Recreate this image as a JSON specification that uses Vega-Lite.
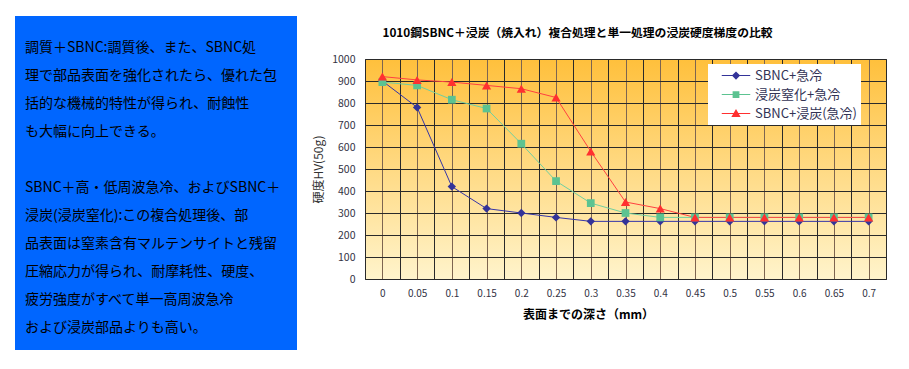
{
  "$schema": "https://vega.github.io/schema/vega-lite/v6.json",
  "background": "white",
  "padding": {"left": 15, "top": 16, "right": 0, "bottom": 0},
  "spacing": 15,
  "config": {
    "font": "Noto Sans CJK JP",
    "axis": {"labelFont": "Noto Sans CJK JP", "titleFont": "Noto Sans CJK JP"},
    "legend": {"labelFont": "Noto Sans CJK JP"}
  },
  "resolve": {
    "scale": {"stroke": "independent"},
    "legend": {"stroke": "independent"}
  },
  "hconcat": [
    {
      "width": 282,
      "height": 334,
      "view": {"fill": "#0066FF", "stroke": null},
      "data": {"values": [
        {"line": 0, "text": "調質＋SBNC:調質後、また、SBNC処"},
        {"line": 1, "text": "理で部品表面を強化されたら、優れた包"},
        {"line": 2, "text": "括的な機械的特性が得られ、耐蝕性"},
        {"line": 3, "text": "も大幅に向上できる。"},
        {"line": 5, "text": "SBNC＋高・低周波急冷、およびSBNC＋"},
        {"line": 6, "text": "浸炭(浸炭窒化):この複合処理後、部"},
        {"line": 7, "text": "品表面は窒素含有マルテンサイトと残留"},
        {"line": 8, "text": "圧縮応力が得られ、耐摩耗性、硬度、"},
        {"line": 9, "text": "疲労強度がすべて単一高周波急冷"},
        {"line": 10, "text": "および浸炭部品よりも高い。"}
      ]},
      "mark": {"type": "text", "align": "left", "baseline": "middle", "fontSize": 14, "color": "#000000", "font": "Noto Sans CJK JP"},
      "encoding": {
        "x": {"datum": 0, "type": "quantitative", "scale": {"domain": [-10, 272]}, "axis": null},
        "y": {"field": "line", "type": "quantitative", "scale": {"domain": [-1.143, 10.786], "reverse": true, "nice": false, "zero": false}, "axis": null},
        "text": {"field": "text"}
      }
    },
    {
      "spacing": 10,
      "resolve": {
        "scale": {"stroke": "independent"},
        "legend": {"stroke": "independent"}
      },
      "vconcat": [
        {
          "width": 1,
          "height": 1,
          "view": {"stroke": null, "fill": null},
          "data": {"values": []},
          "mark": {"type": "point"},
          "encoding": {}
        },
        {
          "width": 521,
          "height": 220,
          "view": {
            "fill": {"gradient": "linear", "x1": 0, "y1": 0, "x2": 0, "y2": 1, "stops": [{"offset": 0, "color": "#FFC03C"}, {"offset": 1, "color": "#FFF4CC"}]},
            "stroke": "#333333",
            "strokeWidth": 1
          },
          "title": {"text": "1010鋼SBNC＋浸炭（焼入れ）複合処理と単一処理の浸炭硬度梯度の比較", "fontSize": 11.8, "fontWeight": "bold", "color": "#000000", "anchor": "middle", "dx": -48, "offset": 14, "font": "Noto Sans CJK JP"},
          "data": {"values": [
            {"depth": 0, "hv": 900, "series": "SBNC+急冷"},
            {"depth": 0.05, "hv": 780, "series": "SBNC+急冷"},
            {"depth": 0.1, "hv": 420, "series": "SBNC+急冷"},
            {"depth": 0.15, "hv": 320, "series": "SBNC+急冷"},
            {"depth": 0.2, "hv": 300, "series": "SBNC+急冷"},
            {"depth": 0.25, "hv": 280, "series": "SBNC+急冷"},
            {"depth": 0.3, "hv": 262, "series": "SBNC+急冷"},
            {"depth": 0.35, "hv": 262, "series": "SBNC+急冷"},
            {"depth": 0.4, "hv": 262, "series": "SBNC+急冷"},
            {"depth": 0.45, "hv": 262, "series": "SBNC+急冷"},
            {"depth": 0.5, "hv": 262, "series": "SBNC+急冷"},
            {"depth": 0.55, "hv": 262, "series": "SBNC+急冷"},
            {"depth": 0.6, "hv": 262, "series": "SBNC+急冷"},
            {"depth": 0.65, "hv": 262, "series": "SBNC+急冷"},
            {"depth": 0.7, "hv": 262, "series": "SBNC+急冷"},
            {"depth": 0, "hv": 895, "series": "浸炭窒化+急冷"},
            {"depth": 0.05, "hv": 880, "series": "浸炭窒化+急冷"},
            {"depth": 0.1, "hv": 815, "series": "浸炭窒化+急冷"},
            {"depth": 0.15, "hv": 775, "series": "浸炭窒化+急冷"},
            {"depth": 0.2, "hv": 615, "series": "浸炭窒化+急冷"},
            {"depth": 0.25, "hv": 445, "series": "浸炭窒化+急冷"},
            {"depth": 0.3, "hv": 345, "series": "浸炭窒化+急冷"},
            {"depth": 0.35, "hv": 300, "series": "浸炭窒化+急冷"},
            {"depth": 0.4, "hv": 280, "series": "浸炭窒化+急冷"},
            {"depth": 0.45, "hv": 280, "series": "浸炭窒化+急冷"},
            {"depth": 0.5, "hv": 280, "series": "浸炭窒化+急冷"},
            {"depth": 0.55, "hv": 280, "series": "浸炭窒化+急冷"},
            {"depth": 0.6, "hv": 280, "series": "浸炭窒化+急冷"},
            {"depth": 0.65, "hv": 280, "series": "浸炭窒化+急冷"},
            {"depth": 0.7, "hv": 280, "series": "浸炭窒化+急冷"},
            {"depth": 0, "hv": 920, "series": "SBNC+浸炭(急冷)"},
            {"depth": 0.05, "hv": 905, "series": "SBNC+浸炭(急冷)"},
            {"depth": 0.1, "hv": 895, "series": "SBNC+浸炭(急冷)"},
            {"depth": 0.15, "hv": 880, "series": "SBNC+浸炭(急冷)"},
            {"depth": 0.2, "hv": 865, "series": "SBNC+浸炭(急冷)"},
            {"depth": 0.25, "hv": 825, "series": "SBNC+浸炭(急冷)"},
            {"depth": 0.3, "hv": 580, "series": "SBNC+浸炭(急冷)"},
            {"depth": 0.35, "hv": 350, "series": "SBNC+浸炭(急冷)"},
            {"depth": 0.4, "hv": 320, "series": "SBNC+浸炭(急冷)"},
            {"depth": 0.45, "hv": 280, "series": "SBNC+浸炭(急冷)"},
            {"depth": 0.5, "hv": 280, "series": "SBNC+浸炭(急冷)"},
            {"depth": 0.55, "hv": 280, "series": "SBNC+浸炭(急冷)"},
            {"depth": 0.6, "hv": 280, "series": "SBNC+浸炭(急冷)"},
            {"depth": 0.65, "hv": 280, "series": "SBNC+浸炭(急冷)"},
            {"depth": 0.7, "hv": 280, "series": "SBNC+浸炭(急冷)"}
          ]},
          "encoding": {
            "x": {
              "field": "depth", "type": "quantitative",
              "scale": {"domain": [-0.025, 0.725], "nice": false, "zero": false},
              "axis": {
                "title": "表面までの深さ（mm）",
                "titleFontSize": 12, "titleFontWeight": "bold", "titleColor": "#000000",
                "titleX": 223, "titleY": 35, "titleBaseline": "middle",
                "values": [-0.025, 0, 0.025, 0.05, 0.075, 0.1, 0.125, 0.15, 0.175, 0.2, 0.225, 0.25, 0.275, 0.3, 0.325, 0.35, 0.375, 0.4, 0.425, 0.45, 0.475, 0.5, 0.525, 0.55, 0.575, 0.6, 0.625, 0.65, 0.675, 0.7, 0.725],
                "labelExpr": "round(datum.value*40) % 2 == 0 ? format(datum.value, '~g') : ''",
                "labelFontSize": 10, "labelColor": "#333344", "labelPadding": 9,
                "ticks": false, "domain": false,
                "grid": true,
                "gridColor": {"condition": {"test": "round(datum.value*40) % 2 == 0", "value": "#7d6550"}, "value": "#2a2a2a"},
                "gridWidth": 1, "gridOpacity": 1
              }
            },
            "y": {
              "field": "hv", "type": "quantitative",
              "scale": {"domain": [0, 1000], "nice": false},
              "axis": {
                "title": "硬度HV(50g)", "titleFontSize": 12, "titleFontWeight": "normal", "titleColor": "#333333", "titlePadding": 6,
                "values": [0, 100, 200, 300, 400, 500, 600, 700, 800, 900, 1000],
                "format": "d",
                "labelFontSize": 10.5, "labelColor": "#333344", "labelPadding": 10,
                "ticks": false, "domain": false,
                "grid": true, "gridColor": "#2a2a2a", "gridWidth": 1, "gridOpacity": 1
              }
            }
          },
          "layer": [
            {
              "mark": {"type": "line", "strokeWidth": 1},
              "encoding": {
                "stroke": {
                  "field": "series", "type": "nominal",
                  "scale": {"domain": ["SBNC+急冷", "浸炭窒化+急冷", "SBNC+浸炭(急冷)"], "range": ["#3535A8", "#70D0A0", "#FF4040"]},
                  "legend": {
                    "title": null, "orient": "none", "legendX": 343, "legendY": 5,
                    "fillColor": "#FFFFFF", "padding": 4, "rowPadding": 4,
                    "labelFontSize": 13, "labelColor": "#333355", "labelFont": "Noto Sans CJK JP",
                    "symbolSize": 225, "symbolOffset": 16.5, "labelOffset": 11.5,
                    "encode": {
                      "symbols": {
                        "update": {
                          "shape": {"signal": "datum.value == 'SBNC+急冷' ? 'M-1.9,-0.07L1.9,-0.07L1.9,0.07L-1.9,0.07ZM-0.55,0L0,-0.55L0.55,0L0,0.55Z' : datum.value == '浸炭窒化+急冷' ? 'M-1.9,-0.07L1.9,-0.07L1.9,0.07L-1.9,0.07ZM-0.45,-0.45L0.45,-0.45L0.45,0.45L-0.45,0.45Z' : 'M-1.9,-0.07L1.9,-0.07L1.9,0.07L-1.9,0.07ZM0,-0.6L0.62,0.45L-0.62,0.45Z'"},
                          "fill": {"signal": "datum.value == 'SBNC+急冷' ? '#333399' : datum.value == '浸炭窒化+急冷' ? '#5CC391' : '#FF3030'"},
                          "strokeWidth": {"value": 0},
                          "opacity": {"value": 1}
                        }
                      }
                    }
                  }
                }
              }
            },
            {
              "transform": [{"filter": "datum.series == 'SBNC+急冷'"}],
              "mark": {"type": "point", "filled": true, "opacity": 1, "shape": "diamond", "size": 70, "color": "#333399"},
              "encoding": {}
            },
            {
              "transform": [{"filter": "datum.series == '浸炭窒化+急冷'"}],
              "mark": {"type": "point", "filled": true, "opacity": 1, "shape": "square", "size": 60, "color": "#5CC391"},
              "encoding": {}
            },
            {
              "transform": [{"filter": "datum.series == 'SBNC+浸炭(急冷)'"}],
              "mark": {"type": "point", "filled": true, "opacity": 1, "shape": "triangle-up", "size": 85, "color": "#FF3030"},
              "encoding": {}
            }
          ]
        }
      ]
    }
  ]
}
